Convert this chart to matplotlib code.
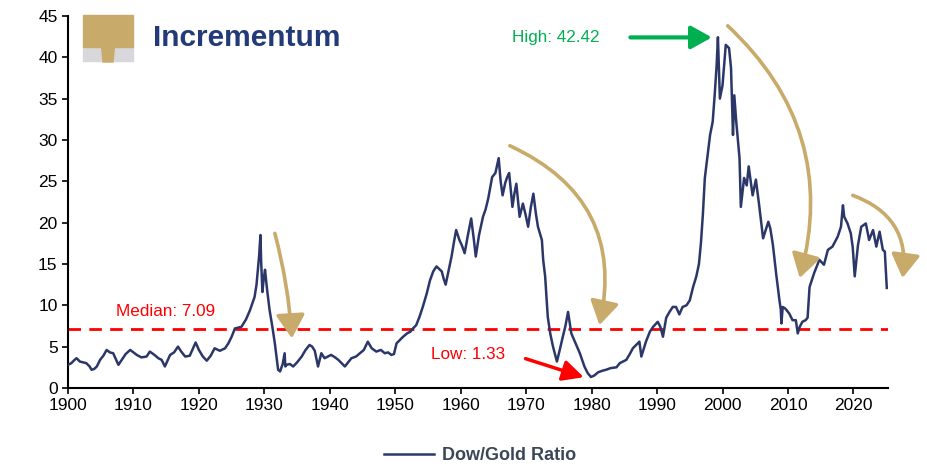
import matplotlib
matplotlib.use("Agg")
import matplotlib.pyplot as plt
from matplotlib.patches import Rectangle, Polygon
from matplotlib.lines import Line2D

plt.rcParams['font.family'] = ['Liberation Sans', 'DejaVu Sans']

# Dow/Gold ratio
years = [1900.0, 1900.5, 1901.0, 1901.3, 1901.8, 1902.3, 1902.8, 1903.3, 1903.6, 1904.0,
         1904.4, 1904.9, 1905.4, 1905.9, 1906.4, 1906.9, 1907.3, 1907.7, 1908.2, 1908.8,
         1909.5, 1910.0, 1910.5, 1911.2, 1912.0, 1912.5, 1913.2, 1913.8, 1914.3, 1914.8,
         1915.2, 1915.6, 1916.2, 1916.8, 1917.3, 1917.9, 1918.6, 1919.0, 1919.5, 1920.0,
         1920.6, 1921.2, 1921.8, 1922.4, 1923.2, 1924.0, 1924.5, 1925.0, 1925.5, 1926.0,
         1926.5, 1927.2, 1927.8, 1928.2, 1928.5, 1928.8, 1929.0, 1929.2, 1929.4, 1929.5,
         1929.7, 1929.9, 1930.1, 1930.4, 1930.8, 1931.2, 1931.6, 1931.9, 1932.1, 1932.4,
         1932.8, 1933.1, 1933.2, 1933.4, 1933.9, 1934.4, 1935.0, 1935.7, 1936.3, 1936.9,
         1937.3, 1937.7, 1938.2, 1938.7, 1939.2, 1939.7, 1940.2, 1940.8, 1941.3, 1941.8,
         1942.3, 1942.8, 1943.3, 1944.0, 1944.6, 1945.2, 1945.8, 1946.4, 1947.1, 1947.8,
         1948.4, 1948.9, 1949.4, 1949.8, 1950.2, 1950.7, 1951.2, 1951.8, 1952.3, 1952.7,
         1953.2, 1953.7, 1954.2, 1954.8, 1955.3, 1955.8, 1956.3, 1956.7, 1957.1, 1957.4,
         1957.7, 1958.1, 1958.6, 1959.0, 1959.3, 1959.8, 1960.2, 1960.6, 1961.1, 1961.6,
         1962.0, 1962.3, 1962.8, 1963.4, 1963.8, 1964.2, 1964.8, 1965.3, 1965.8, 1966.1,
         1966.4, 1966.8, 1967.1, 1967.4, 1967.9, 1968.2, 1968.5, 1969.0, 1969.5, 1969.9,
         1970.3, 1970.7, 1971.1, 1971.5, 1971.8, 1972.4, 1972.6, 1972.9, 1973.3, 1973.7,
         1974.1, 1974.7, 1975.1, 1975.6, 1976.0, 1976.4, 1976.9, 1977.5, 1978.2, 1978.9,
         1979.4, 1979.9, 1980.4, 1981.0, 1981.7, 1982.2, 1982.9, 1983.8, 1984.3, 1985.3,
         1985.9, 1986.3, 1986.8, 1987.3, 1987.6, 1988.3, 1988.9, 1989.4, 1990.1, 1990.5,
         1990.9, 1991.4, 1991.9, 1992.4, 1992.9, 1993.4, 1993.9, 1994.5, 1995.0, 1995.5,
         1996.0, 1996.4, 1996.7, 1997.0, 1997.3, 1997.8, 1998.1, 1998.5, 1998.8, 1999.1,
         1999.3, 1999.6, 2000.0, 2000.5, 2001.0, 2001.3, 2001.6, 2001.8, 2002.1, 2002.6,
         2002.8, 2003.3, 2003.7, 2004.0, 2004.6, 2005.1, 2005.6, 2006.2, 2007.0, 2007.3,
         2007.7, 2008.2, 2008.7, 2008.9, 2009.0, 2009.2, 2009.6, 2010.2, 2010.7, 2011.2,
         2011.5, 2011.8, 2012.2, 2012.7, 2013.0, 2013.3, 2014.0, 2014.8, 2015.5, 2016.1,
         2016.8, 2017.6, 2018.1, 2018.4, 2018.6, 2019.1, 2019.6, 2019.9, 2020.2, 2020.7,
         2021.2, 2021.9, 2022.4, 2023.0, 2023.5, 2024.0, 2024.5, 2024.8, 2025.1]
ratio = [2.8, 3.0, 3.4, 3.6, 3.2, 3.1, 3.0, 2.6, 2.2, 2.3,
         2.6, 3.4, 3.9, 4.6, 4.3, 4.2, 3.5, 2.8, 3.4, 4.1,
         4.6, 4.3, 4.0, 3.7, 3.8, 4.4, 4.0, 3.6, 3.4, 2.6,
         3.3, 4.0, 4.3, 5.0, 4.4, 3.8, 3.9, 4.6, 5.5, 4.6,
         3.8, 3.3, 3.9, 4.8, 4.5, 4.8, 5.4, 6.2, 7.2, 7.3,
         7.4, 8.3, 9.4, 10.3, 11.0, 12.5, 14.3, 16.0, 18.5, 15.5,
         11.6, 13.2, 14.3, 12.0, 9.4, 7.5, 5.4, 3.5, 2.2, 2.0,
         2.9, 4.2, 2.6, 2.8, 2.9, 2.6, 3.1, 3.8, 4.6, 5.2,
         5.0, 4.5, 2.6, 4.2, 3.6, 3.8, 4.0, 3.7, 3.4, 3.0,
         2.6, 3.1, 3.6, 3.8, 4.2, 4.6, 5.6, 4.8, 4.4, 4.6,
         4.2, 4.3, 4.0, 4.1, 5.4, 5.8, 6.2, 6.6, 6.8, 7.2,
         7.6, 8.6, 9.8, 11.4, 13.0, 14.1, 14.7, 14.4, 14.1, 13.2,
         12.5, 14.0, 15.9, 17.8, 19.1, 17.9, 17.2, 16.3, 18.5, 20.5,
         18.0, 15.9, 18.5, 20.7, 21.6, 22.9, 25.5, 26.0, 27.8, 25.0,
         23.3, 24.8, 25.5, 26.0, 21.9, 23.5, 24.7, 20.7, 22.3, 21.0,
         19.5, 21.8, 23.5, 21.0, 19.5, 17.9, 15.5, 13.5, 8.6, 6.5,
         5.0, 3.2, 4.5, 6.2, 7.5, 9.2, 6.6, 5.5, 4.2, 2.6,
         1.8, 1.33, 1.5, 1.9, 2.1, 2.2, 2.4, 2.5, 3.0, 3.4,
         4.2, 4.8, 5.2, 5.6, 3.8, 5.6, 6.8, 7.4, 8.0, 7.4,
         6.2, 8.5, 9.2, 9.8, 9.8, 8.9, 9.8, 10.0, 10.6, 12.2,
         13.5, 15.0, 17.5, 21.0, 25.4, 28.6, 30.6, 32.2, 35.4, 39.0,
         42.42, 35.0, 36.6, 41.5, 41.1, 38.7, 30.6, 35.4, 32.2, 27.8,
         21.9, 25.4, 24.5, 26.8, 23.3, 25.2, 22.1, 18.1, 20.1, 19.3,
         17.3, 13.8, 10.6, 9.5, 7.8, 9.8, 9.6, 9.0, 8.2, 8.2,
         6.6, 7.4, 8.0, 8.2, 8.5, 12.2, 13.9, 15.5, 14.9, 16.7,
         17.1, 18.3, 19.5, 22.1, 20.7, 19.9, 18.7, 17.0, 13.5, 17.3,
         19.5, 19.9, 17.9, 19.1, 17.1, 18.9, 16.7, 16.5, 12.1]

median_val = 7.09
high_val = 42.42
low_val = 1.33
x_ticks = list(range(1900, 2030, 10))
y_ticks = list(range(0, 50, 5))

navy = "#2b3768"
gold = "#c8aa6a"

fig = plt.figure(figsize=(9.28, 4.68), dpi=100)
ax = fig.add_axes([0.0733, 0.171, 0.8837, 0.795])

ax.plot(years, ratio, color=navy, lw=1.8, zorder=3)
ax.plot([1900, 2025.3], [median_val, median_val], color="#ff0000", lw=2.0,
        ls=(0, (4.5, 3)), zorder=2)

ax.set_xlim(1900, 2025.3)
ax.set_ylim(0, 45)
ax.set_xticks(x_ticks)
ax.set_yticks(y_ticks)
ax.tick_params(labelsize=12.5, length=4, width=1.2, colors="black")
for s in ["top", "right"]:
    ax.spines[s].set_visible(False)
for s in ["left", "bottom"]:
    ax.spines[s].set_linewidth(1.5)

# annotations
ax.text(1907.4, 9.2, "Median: " + f"{median_val:.2f}", color="#ff0000", fontsize=12.3,
        va="center", ha="left")
ax.text(1955.5, 4.0, "Low: " + f"{low_val:.2f}", color="#ff0000", fontsize=12.3,
        va="center", ha="left")
ax.annotate("", xy=(1979.2, 1.2), xytext=(1969.5, 3.65),
            arrowprops=dict(arrowstyle="-|>,head_length=0.9,head_width=0.45",
                            color="#ff0000", lw=2.5, mutation_scale=14))
ax.text(1967.9, 42.4, "High: " + f"{high_val:.2f}", color="#00b050", fontsize=12.3,
        va="center", ha="left")
ax.annotate("", xy=(1998.8, 42.4), xytext=(1985.5, 42.4),
            arrowprops=dict(arrowstyle="-|>,head_length=0.9,head_width=0.5",
                            color="#00b050", lw=3, mutation_scale=14))

# gold curved arrows
gold_arrows = [((1931.6, 18.7), (1934.2, 6.0), -0.05),
               ((1967.5, 29.3), (1981.2, 7.6), -0.4),
               ((2000.8, 43.8), (2011.8, 13.3), -0.3),
               ((2019.9, 23.3), (2027.5, 13.3), -0.4)]
for start, end, rad in gold_arrows:
    ax.annotate("", xy=end, xytext=start, annotation_clip=False,
                arrowprops=dict(arrowstyle="-|>,head_length=0.9,head_width=0.55",
                                color=gold, lw=2.6, mutation_scale=16,
                                connectionstyle=f"arc3,rad={rad}", shrinkA=0, shrinkB=0))

# logo
W, H = 928.0, 468.0
def fx(px):
    return px / W
def fy(py):
    return 1 - py / H
fig.patches.append(Rectangle((fx(83), fy(61)), fx(50), (61 - 47) / H,
                             transform=fig.transFigure, color="#d8d8dc", zorder=5))
fig.patches.append(Rectangle((fx(83), fy(47)), fx(50), (47 - 15) / H,
                             transform=fig.transFigure, color=gold, zorder=6))
fig.patches.append(Polygon([(fx(101), fy(40)), (fx(115), fy(40)), (fx(113), fy(62)),
                            (fx(103), fy(62))], closed=True,
                           transform=fig.transFigure, color=gold, zorder=7))
fig.text(fx(153), fy(38), "Incrementum", fontsize=21.5, fontweight="bold",
         color="#223a78", va="center", ha="left")

# legend
handle = Line2D([], [], color=navy, lw=1.8)
leg = fig.legend([handle], ["Dow/Gold Ratio"], loc="center", bbox_to_anchor=(0.517, 0.026),
                 frameon=False, handlelength=2.8, handletextpad=0.4,
                 prop={"size": 13, "weight": "bold"})
for t in leg.get_texts():
    t.set_color("#3b4656")

fig.savefig("out.png", dpi=100)
